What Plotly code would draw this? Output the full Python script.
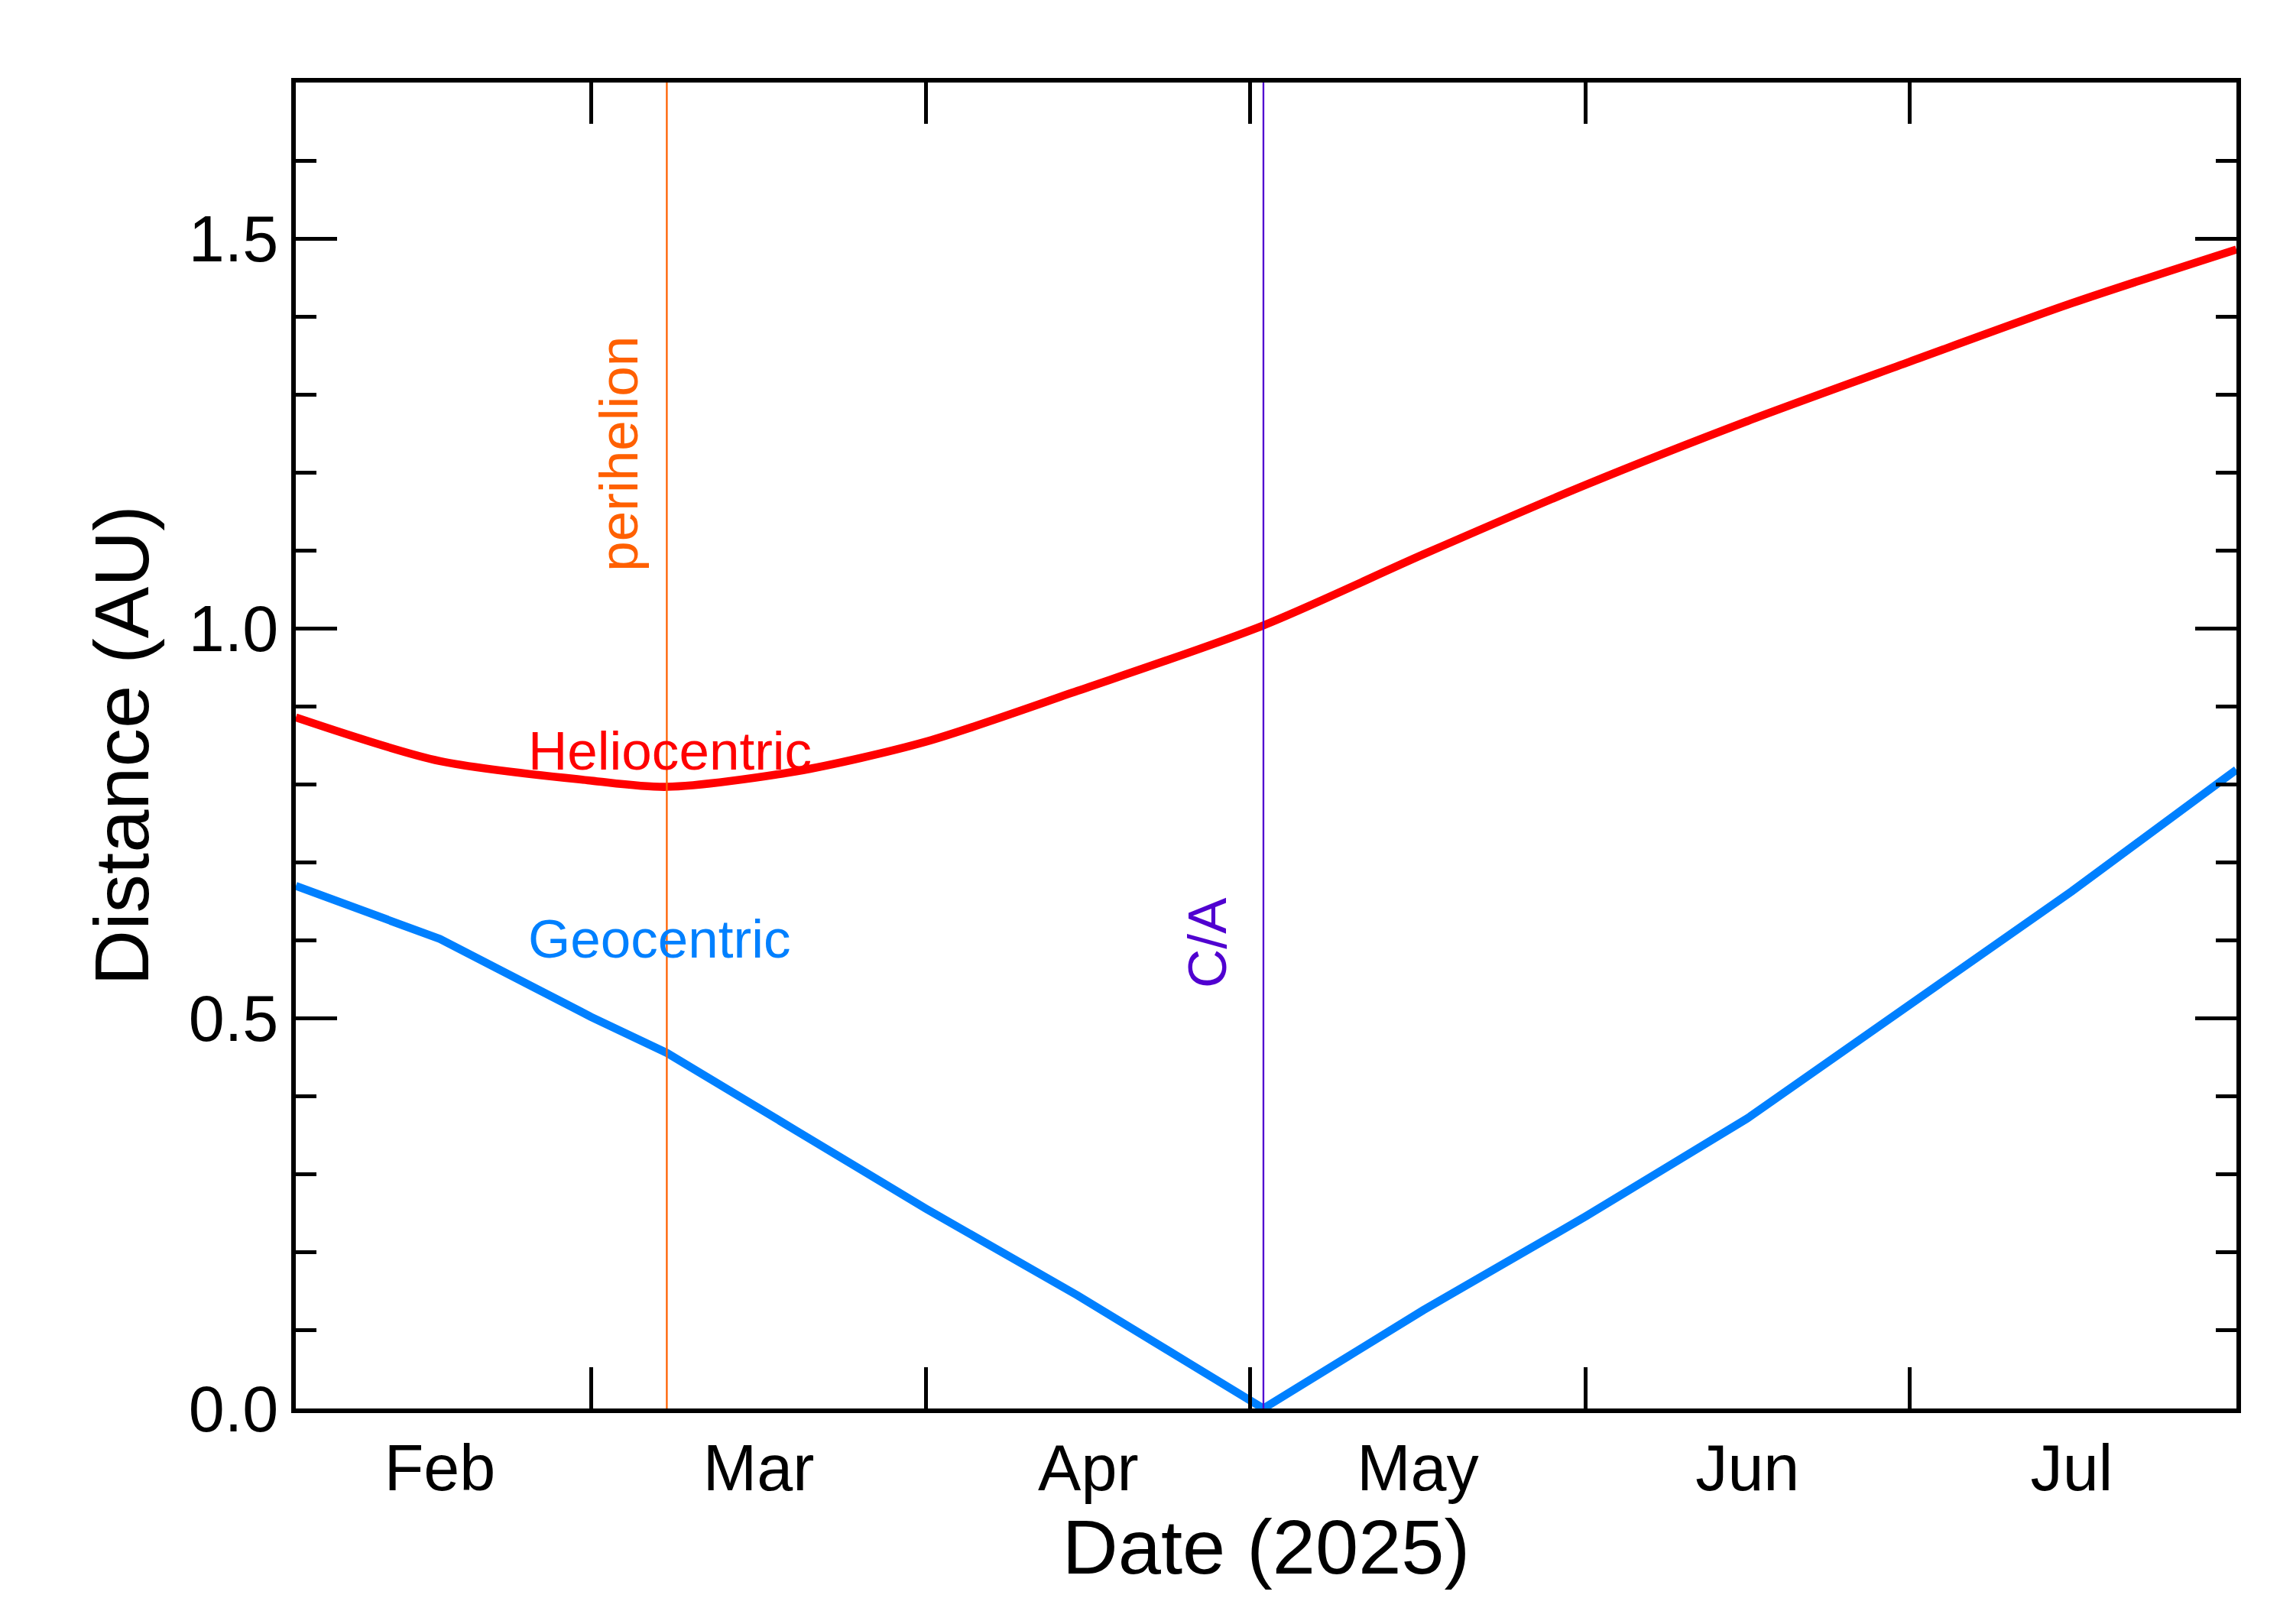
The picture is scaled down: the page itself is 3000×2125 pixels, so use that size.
import plotly.graph_objects as go

helio_dates = ["2025-02-01 16:00", "2025-02-15", "2025-03-01", "2025-03-08", "2025-03-20",
               "2025-04-01", "2025-04-15", "2025-05-02 05:00", "2025-05-17", "2025-06-01",
               "2025-06-16", "2025-07-01", "2025-07-16", "2025-07-31 06:00"]
helio_au = [0.886, 0.830, 0.805, 0.797, 0.817, 0.855, 0.920, 1.004, 1.095, 1.184,
            1.266, 1.342, 1.417, 1.486]

geo_dates = ["2025-02-01 16:00", "2025-02-15", "2025-03-01", "2025-03-08", "2025-03-20",
             "2025-04-01", "2025-04-15", "2025-05-02 05:00", "2025-05-17", "2025-06-01",
             "2025-06-16", "2025-07-01", "2025-07-16", "2025-07-31 06:00"]
geo_au = [0.670, 0.602, 0.502, 0.456, 0.356, 0.256, 0.145, 0.0, 0.126, 0.246,
          0.372, 0.518, 0.663, 0.819]

perihelion = "2025-03-08"
close_approach = "2025-05-02 05:00"

S = 1.92
fig = go.Figure()
fig.add_trace(go.Scatter(x=helio_dates, y=helio_au, mode="lines",
                         line=dict(color="#ff0000", width=5.5 * S, shape="spline", smoothing=0.8)))
fig.add_trace(go.Scatter(x=geo_dates, y=geo_au, mode="lines",
                         line=dict(color="#0080ff", width=5.5 * S, shape="linear")))

fig.add_shape(type="line", x0=perihelion, x1=perihelion, y0=0, y1=1.7, line=dict(color="#ff6000", width=1.2 * S))
fig.add_shape(type="line", x0=close_approach, x1=close_approach, y0=0, y1=1.7, line=dict(color="#5000d0", width=1.2 * S))

fnt = "Liberation Sans, Arial, sans-serif"
fig.add_annotation(x="2025-02-23", y=0.843, text="Heliocentric", showarrow=False, xanchor="left",
                   font=dict(color="#ff0000", size=37 * S, family=fnt))
fig.add_annotation(x="2025-02-23", y=0.602, text="Geocentric", showarrow=False, xanchor="left",
                   font=dict(color="#0080ff", size=37 * S, family=fnt))
fig.add_annotation(x="2025-03-03 14:00", y=1.224, text="perihelion", showarrow=False, textangle=-90,
                   font=dict(color="#ff6000", size=37 * S, family=fnt))
fig.add_annotation(x="2025-04-27", y=0.597, text="C/A", showarrow=False, textangle=-90,
                   font=dict(color="#5000d0", size=37 * S, family=fnt))

fig.update_layout(
    width=3000, height=2125, showlegend=False,
    paper_bgcolor="white", plot_bgcolor="white",
    margin=dict(l=379, r=82, t=100, b=290),
    font=dict(family=fnt, size=44 * S, color="black"),
)
fig.update_xaxes(
    range=["2025-02-01 16:00", "2025-07-31 06:00"], dtick="M1", tick0="2025-02-01",
    tickformat="%b", ticklabelmode="period", ticks="inside", ticklen=28 * S, tickwidth=2.5 * S,
    showline=True, linewidth=3 * S, linecolor="black", mirror="ticks", showgrid=False,
    title=dict(text="Date (2025)", standoff=5), tickcolor="black",
)
fig.update_yaxes(
    range=[0, 1.7], dtick=0.5, tickformat=".1f", ticks="inside", ticklen=28 * S, tickwidth=2.5 * S,
    minor=dict(dtick=0.1, ticks="inside", ticklen=14 * S, tickwidth=2.5 * S, tickcolor="black"),
    showline=True, linewidth=3 * S, linecolor="black", mirror="ticks", showgrid=False, zeroline=False,
    title=dict(text="Distance (AU)", standoff=20), tickcolor="black",
)

fig.write_html("out.html")
